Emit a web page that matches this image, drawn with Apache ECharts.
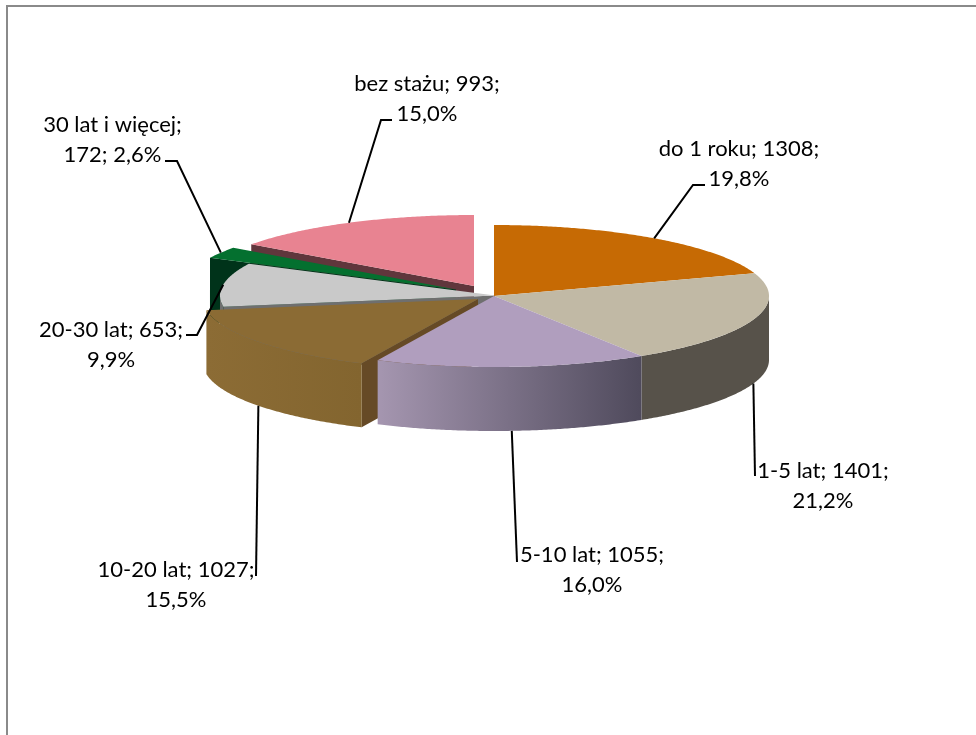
<!DOCTYPE html>
<html>
<head>
<meta charset="utf-8">
<style>html,body{margin:0;padding:0;background:#fff}#c{width:976px;height:735px}</style>
<script src="https://cdn.jsdelivr.net/npm/echarts@6/dist/echarts.min.js"></script>
</head>
<body>
<div id="c"></div>
<script>
// ---- data ----
const categories = ['do 1 roku', '1-5 lat', '5-10 lat', '10-20 lat', '20-30 lat', '30 lat i więcej', 'bez stażu'];
const values = [1308, 1401, 1055, 1027, 653, 172, 993];

// ---- styles ----
const topColors = ['#C66A04', '#C1B9A5', '#B09EBE', '#8B6B34', '#C9C9C9', '#04702F', '#E88391'];
const cutColors = [null, null, null, '#664A26', '#6F6F6F', '#00331A', '#60363C'];
const wallStops = [
  null,
  ['#57524A', '#57524A'],
  ['#A596B0', '#4F4A5C'],
  ['#8C6C35', '#83652F'],
  ['#6F6F6F', '#6F6F6F'],
  null,
  null
];
const drawOrder = [4, 5, 6, 3, 2, 1, 0]; // painter's order per slice index, front slices on top

// ---- layout (pixels) ----
const radiusX = 275, radiusY = 71, depth = 64;
const apexX = [494, 494, 494, 478, 495, 456, 474];
const apexY = [296, 296, 296, 299, 295.5, 289.5, 286];
const labelX = [739, 823, 592, 176, 111, 112.5, 427];
const labelY = [164, 486, 570, 585, 345, 140, 99];
const breakAfterName = [false, false, false, false, false, true, false];
const leaderOnWall = [false, true, true, true, false, false, false];
const leaderRest = [
  [[693, 185], [705, 185]],
  [[755, 476]],
  [[517, 562]],
  [[256, 576]],
  [[197, 335], [186, 335]],
  [[177, 161], [165, 161]],
  [[381, 120], [392, 120]]
];

// ---- derived from the values ----
const total = values.reduce((a, b) => a + b, 0);
const startAngles = [];
const endAngles = [];
values.reduce((acc, v, i) => {
  startAngles[i] = acc / total * 360;
  endAngles[i] = (acc + v) / total * 360;
  return acc + v;
}, 0);

function pt(i, deg, dy) {
  const r = deg * Math.PI / 180;
  return [apexX[i] + radiusX * Math.sin(r), apexY[i] - radiusY * Math.cos(r) + (dy || 0)];
}
function arc(i, a, b, dy) {
  const n = Math.max(2, Math.ceil(Math.abs(b - a) * 2));
  const out = [];
  for (let k = 0; k <= n; k++) out.push(pt(i, a + (b - a) * k / n, dy));
  return out;
}
function pct(v) {
  return (v / total * 100).toFixed(1).replace('.', ',') + '%';
}

function renderItem(params, api) {
  const i = params.dataIndex;
  const v = api.value(0);
  const a = startAngles[i], b = endAngles[i];
  const z = drawOrder[i] * 10 + 1;
  const children = [];

  // inner cut face of an exploded slice
  if (cutColors[i]) {
    const p = pt(i, a);
    const apex = [apexX[i], apexY[i]];
    children.push({
      type: 'polygon', z2: z,
      shape: { points: [apex, p, [p[0], p[1] + depth], [apex[0], apex[1] + depth]] },
      style: { fill: cutColors[i] }
    });
  }
  // outer wall, only the front half of the ellipse
  const wa = Math.max(a, 90), wb = Math.min(b, 270);
  if (wallStops[i] && wb > wa) {
    children.push({
      type: 'polygon', z2: z + 1,
      shape: { points: arc(i, wa, wb, 0).concat(arc(i, wb, wa, depth)) },
      style: {
        fill: new echarts.graphic.LinearGradient(0, 0, 1, 0, [
          { offset: 0, color: wallStops[i][0] },
          { offset: 1, color: wallStops[i][1] }
        ])
      }
    });
  }
  // top face
  children.push({
    type: 'polygon', z2: z + 2,
    shape: { points: [[apexX[i], apexY[i]]].concat(arc(i, a, b, 0)) },
    style: { fill: topColors[i] }
  });
  // leader line
  const mid = (a + b) / 2;
  children.push({
    type: 'polyline', z2: 200,
    shape: { points: [pt(i, mid, leaderOnWall[i] ? depth : 0)].concat(leaderRest[i]) },
    style: { stroke: '#000', lineWidth: 2, fill: null }
  });
  // label
  const text = breakAfterName[i]
    ? categories[i] + ';\n' + v + '; ' + pct(v)
    : categories[i] + '; ' + v + ';\n' + pct(v);
  children.push({
    type: 'text', z2: 201,
    style: {
      text: text, x: labelX[i], y: labelY[i],
      align: 'center', verticalAlign: 'middle',
      font: '22px Lato', lineHeight: 30, fill: '#000'
    }
  });
  return { type: 'group', children: children };
}

const chart = echarts.init(document.getElementById('c'), null, { renderer: 'canvas' });
chart.setOption({
  animation: false,
  backgroundColor: '#fff',
  graphic: [
    { type: 'line', shape: { x1: 7, y1: 5, x2: 7, y2: 735 }, style: { stroke: '#8A8A8A', lineWidth: 2 } },
    { type: 'line', shape: { x1: 6, y1: 6, x2: 976, y2: 6 }, style: { stroke: '#8A8A8A', lineWidth: 2 } }
  ],
  series: [{
    type: 'custom',
    coordinateSystem: 'none',
    renderItem: renderItem,
    data: values.map((v, i) => ({ name: categories[i], value: [v] }))
  }]
});
</script>
</body>
</html>
